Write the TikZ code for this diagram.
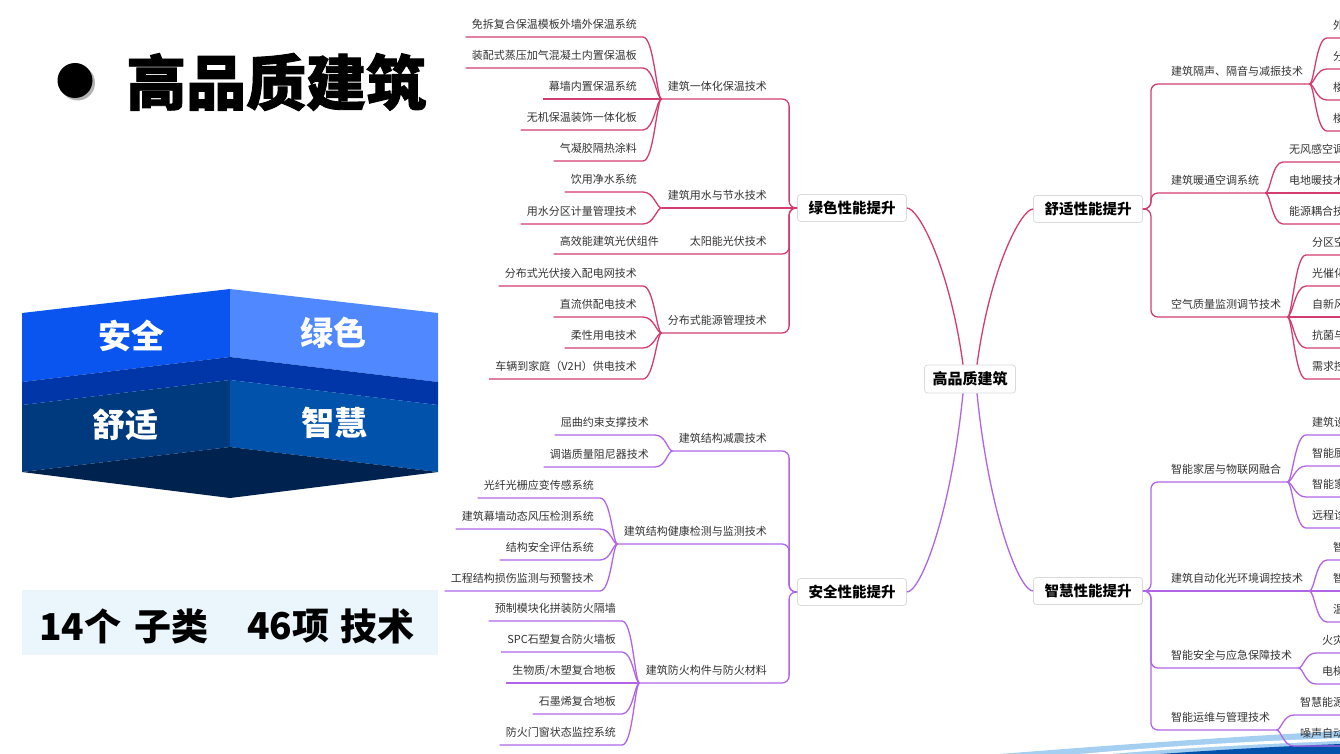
\documentclass[tikz,border=0pt]{standalone}
\usepackage{fontspec}
\setmainfont{Noto Sans CJK SC}
\newfontfamily\heavyfont{Noto Sans CJK SC}[FakeBold=1.5]
\usetikzlibrary{positioning,calc}
\definecolor{pinkbr}{HTML}{D23C6E}
\definecolor{purpbr}{HTML}{B064E6}
\definecolor{boxgray}{HTML}{DADADA}
\definecolor{txtgray}{HTML}{333333}
\definecolor{blkblue}{HTML}{0A55F0}
\definecolor{blklight}{HTML}{5089FF}
\definecolor{blkband}{HTML}{0036A8}
\definecolor{blknavy}{HTML}{003A7E}
\definecolor{blkmid}{HTML}{0052AA}
\definecolor{blkdeep}{HTML}{00224F}
\definecolor{statbg}{HTML}{EBF6FC}
\definecolor{waveblue}{HTML}{5AA8E6}

\begin{document}
\begin{tikzpicture}[x=1pt,y=-1pt,
  rootbox/.style={draw=boxgray,fill=white,rounded corners=3pt,line width=0.8pt,font=\fontsize{15}{17}\selectfont\bfseries,inner xsep=8pt,minimum height=28pt},
  topic/.style={rootbox,font=\fontsize{14.5}{17}\selectfont\bfseries,inner xsep=11pt,minimum height=27pt},
  subtxt/.style={font=\fontsize{11}{13}\selectfont,text=txtgray,inner xsep=6pt,inner ysep=5.5pt,text height=8.5pt,text depth=2.5pt},
  pinkln/.style={draw=pinkbr,line width=1.3pt},
  purpln/.style={draw=purpbr,line width=1.3pt},
  brl/.style={to path={.. controls +(-5,0) and +(11,0) .. (\tikztotarget)}},
  brr/.style={to path={.. controls +(5,0) and +(-11,0) .. (\tikztotarget)}},
  blocktxt/.style={text=white,font=\fontsize{33}{36}\selectfont\bfseries},
  stattxt/.style={anchor=west,inner sep=0pt,font=\fontsize{37}{40}\selectfont\bfseries}
]
\useasboundingbox (0,0) rectangle (1340,754);
\clip (0,0) rectangle (1340,754);

% title
\fill[black!30] (77.5,83) circle (17.5);
\node[circle,fill=black,minimum size=35pt,inner sep=0pt] (bullet) at (75,80.5) {};
\node[anchor=west,inner sep=0pt,font=\heavyfont\fontsize{60}{64}\selectfont\bfseries] (title) at (126,82) {高品质建筑};

% stacked block
\fill[blkblue] (22,313) -- (230,289) -- (230,357) -- (22,382) -- cycle;
\fill[blklight] (230,289) -- (438,313) -- (438,382) -- (230,357) -- cycle;
\fill[blkband] (22,382) -- (230,357) -- (438,382) -- (438,405) -- (230,380) -- (22,405) -- cycle;
\fill[blknavy] (22,405) -- (230,380) -- (230,447) -- (22,472) -- cycle;
\fill[blkmid] (230,380) -- (438,405) -- (438,472) -- (230,447) -- cycle;
\fill[blkdeep] (22,472) -- (230,447) -- (438,472) -- (230,498) -- cycle;
\node[blocktxt] (anquan) at (131,336) {安全};
\node[blocktxt] (lvse) at (333,333) {绿色};
\node[blocktxt] (shushi) at (125,425) {舒适};
\node[blocktxt] (zhihui) at (334,423) {智慧};

% counts
\fill[statbg] (22,590) rectangle (438,655);
\node[stattxt] (cnt14) at (39,626) {14个};
\node[stattxt] (zilei) at (134,626) {子类};
\node[stattxt] (cnt46) at (247,626) {46项};
\node[stattxt] (jishu) at (340,626) {技术};

% bottom corner band
\fill[waveblue!55] (1000,754) .. controls (1150,742) and (1250,736) .. (1340,731) -- (1340,754) -- cycle;
\fill[white] (1080,754) .. controls (1180,745) and (1260,741) .. (1340,738) -- (1340,741) .. controls (1260,744) and (1180,748) .. (1110,754) -- cycle;
\fill[blkmid] (1160,754) .. controls (1230,749) and (1290,746) .. (1340,744) -- (1340,754) -- cycle;

% mind map centre and topics
\node[rootbox] (core) at (970,379) {高品质建筑};
\node[topic] (green) at (852,208) {绿色性能提升};
\node[topic] (comf) at (1088,209) {舒适性能提升};
\node[topic] (safe) at (852,592) {安全性能提升};
\node[topic] (smart) at (1088,591) {智慧性能提升};

\draw[pinkln] ([xshift=-7pt]core.north) .. controls +(-13,-96) and +(12,0) .. (green.east);
\draw[pinkln] ([xshift=7pt]core.north) .. controls +(13,-96) and +(-12,0) .. (comf.west);
\draw[purpln] ([xshift=-7pt]core.south) .. controls +(-12,120) and +(14,0) .. (safe.east);
\draw[purpln] ([xshift=7pt]core.south) .. controls +(12,120) and +(-14,0) .. (smart.west);

% green branch
\node[subtxt,anchor=south east] (g1) at (773,99) {建筑一体化保温技术};
\node[subtxt,anchor=south east] (g2) at (773,208) {建筑用水与节水技术};
\node[subtxt,anchor=south east] (g3) at (773,254) {太阳能光伏技术};
\node[subtxt,anchor=south east] (g4) at (773,333) {分布式能源管理技术};
\node[subtxt,anchor=south east] (g11) at (643,37) {免拆复合保温模板外墙外保温系统};
\node[subtxt,anchor=south east] (g12) at (643,68) {装配式蒸压加气混凝土内置保温板};
\node[subtxt,anchor=south east] (g13) at (643,99) {幕墙内置保温系统};
\node[subtxt,anchor=south east] (g14) at (643,130) {无机保温装饰一体化板};
\node[subtxt,anchor=south east] (g15) at (643,161) {气凝胶隔热涂料};
\node[subtxt,anchor=south east] (g21) at (643,192) {饮用净水系统};
\node[subtxt,anchor=south east] (g22) at (643,224) {用水分区计量管理技术};
\node[subtxt,anchor=south east] (g31) at (665,254) {高效能建筑光伏组件};
\node[subtxt,anchor=south east] (g41) at (643,286) {分布式光伏接入配电网技术};
\node[subtxt,anchor=south east] (g42) at (643,317) {直流供配电技术};
\node[subtxt,anchor=south east] (g43) at (643,348) {柔性用电技术};
\node[subtxt,anchor=south east] (g44) at (643,379) {车辆到家庭（V2H）供电技术};

\draw[pinkln,rounded corners=7pt] (green.west) -- ++(-8,0) |- (g1.south east) -- (g1.south west);
\draw[pinkln] (green.west) -- (g2.south west);
\draw[pinkln,rounded corners=7pt] (green.west) -- ++(-8,0) |- (g3.south east) -- (g31.south west);
\draw[pinkln,rounded corners=7pt] (green.west) -- ++(-8,0) |- (g4.south east) -- (g4.south west);
\draw[pinkln] (g1.south west) to[brl] (g11.south east) -- (g11.south west);
\draw[pinkln] (g1.south west) to[brl] (g12.south east) -- (g12.south west);
\draw[pinkln] (g1.south west) to[brl] (g13.south east) -- (g13.south west);
\draw[pinkln] (g1.south west) to[brl] (g14.south east) -- (g14.south west);
\draw[pinkln] (g1.south west) to[brl] (g15.south east) -- (g15.south west);
\draw[pinkln] (g2.south west) to[brl] (g21.south east) -- (g21.south west);
\draw[pinkln] (g2.south west) to[brl] (g22.south east) -- (g22.south west);
\draw[pinkln] (g4.south west) to[brl] (g41.south east) -- (g41.south west);
\draw[pinkln] (g4.south west) to[brl] (g42.south east) -- (g42.south west);
\draw[pinkln] (g4.south west) to[brl] (g43.south east) -- (g43.south west);
\draw[pinkln] (g4.south west) to[brl] (g44.south east) -- (g44.south west);

% safety branch
\node[subtxt,anchor=south east] (a1) at (773,451) {建筑结构减震技术};
\node[subtxt,anchor=south east] (a2) at (773,544) {建筑结构健康检测与监测技术};
\node[subtxt,anchor=south east] (a3) at (773,683) {建筑防火构件与防火材料};
\node[subtxt,anchor=south east] (a11) at (655,435) {屈曲约束支撑技术};
\node[subtxt,anchor=south east] (a12) at (655,467) {调谐质量阻尼器技术};
\node[subtxt,anchor=south east] (a21) at (600,498) {光纤光栅应变传感系统};
\node[subtxt,anchor=south east] (a22) at (600,529) {建筑幕墙动态风压检测系统};
\node[subtxt,anchor=south east] (a23) at (600,560) {结构安全评估系统};
\node[subtxt,anchor=south east] (a24) at (600,591) {工程结构损伤监测与预警技术};
\node[subtxt,anchor=south east] (a31) at (622,621) {预制模块化拼装防火隔墙};
\node[subtxt,anchor=south east] (a32) at (622,652) {SPC石塑复合防火墙板};
\node[subtxt,anchor=south east] (a33) at (622,683) {生物质/木塑复合地板};
\node[subtxt,anchor=south east] (a34) at (622,714) {石墨烯复合地板};
\node[subtxt,anchor=south east] (a35) at (622,745) {防火门窗状态监控系统};

\draw[purpln,rounded corners=7pt] (safe.west) -- ++(-8,0) |- (a1.south east) -- (a1.south west);
\draw[purpln,rounded corners=7pt] (safe.west) -- ++(-8,0) |- (a2.south east) -- (a2.south west);
\draw[purpln,rounded corners=7pt] (safe.west) -- ++(-8,0) |- (a3.south east) -- (a3.south west);
\draw[purpln] (a1.south west) to[brl] (a11.south east) -- (a11.south west);
\draw[purpln] (a1.south west) to[brl] (a12.south east) -- (a12.south west);
\draw[purpln] (a2.south west) to[brl] (a21.south east) -- (a21.south west);
\draw[purpln] (a2.south west) to[brl] (a22.south east) -- (a22.south west);
\draw[purpln] (a2.south west) to[brl] (a23.south east) -- (a23.south west);
\draw[purpln] (a2.south west) to[brl] (a24.south east) -- (a24.south west);
\draw[purpln] (a3.south west) to[brl] (a31.south east) -- (a31.south west);
\draw[purpln] (a3.south west) to[brl] (a32.south east) -- (a32.south west);
\draw[purpln] (a3.south west) to[brl] (a33.south east) -- (a33.south west);
\draw[purpln] (a3.south west) to[brl] (a34.south east) -- (a34.south west);
\draw[purpln] (a3.south west) to[brl] (a35.south east) -- (a35.south west);

% comfort branch
\node[subtxt,anchor=south west] (c1) at (1165,84) {建筑隔声、隔音与减振技术};
\node[subtxt,anchor=south west] (c2) at (1165,193) {建筑暖通空调系统};
\node[subtxt,anchor=south west] (c3) at (1165,317) {空气质量监测调节技术};
\node[subtxt,anchor=south west] (c11) at (1327,38) {外};
\node[subtxt,anchor=south west] (c12) at (1327,69) {分};
\node[subtxt,anchor=south west] (c13) at (1327,100) {楼};
\node[subtxt,anchor=south west] (c14) at (1327,131) {楼};
\node[subtxt,anchor=south west] (c21) at (1283,162) {无风感空调};
\node[subtxt,anchor=south west] (c22) at (1283,193) {电地暖技术};
\node[subtxt,anchor=south west] (c23) at (1283,224) {能源耦合技};
\node[subtxt,anchor=south west] (c31) at (1306,255) {分区空};
\node[subtxt,anchor=south west] (c32) at (1306,286) {光催化};
\node[subtxt,anchor=south west] (c33) at (1306,317) {自新风};
\node[subtxt,anchor=south west] (c34) at (1306,348) {抗菌与};
\node[subtxt,anchor=south west] (c35) at (1306,379) {需求控};

\draw[pinkln,rounded corners=7pt] (comf.east) -- ++(8,0) |- (c1.south west) -- (c1.south east);
\draw[pinkln,rounded corners=7pt] (comf.east) -- ++(8,0) |- (c2.south west) -- (c2.south east);
\draw[pinkln,rounded corners=7pt] (comf.east) -- ++(8,0) |- (c3.south west) -- (c3.south east);
\draw[pinkln] (c1.south east) to[brr] (c11.south west) -- (c11.south east);
\draw[pinkln] (c1.south east) to[brr] (c12.south west) -- (c12.south east);
\draw[pinkln] (c1.south east) to[brr] (c13.south west) -- (c13.south east);
\draw[pinkln] (c1.south east) to[brr] (c14.south west) -- (c14.south east);
\draw[pinkln] (c2.south east) to[brr] (c21.south west) -- (c21.south east);
\draw[pinkln] (c2.south east) to[brr] (c22.south west) -- (c22.south east);
\draw[pinkln] (c2.south east) to[brr] (c23.south west) -- (c23.south east);
\draw[pinkln] (c3.south east) to[brr] (c31.south west) -- (c31.south east);
\draw[pinkln] (c3.south east) to[brr] (c32.south west) -- (c32.south east);
\draw[pinkln] (c3.south east) to[brr] (c33.south west) -- (c33.south east);
\draw[pinkln] (c3.south east) to[brr] (c34.south west) -- (c34.south east);
\draw[pinkln] (c3.south east) to[brr] (c35.south west) -- (c35.south east);

% smart branch
\node[subtxt,anchor=south west] (w1) at (1165,482) {智能家居与物联网融合};
\node[subtxt,anchor=south west] (w2) at (1165,591) {建筑自动化光环境调控技术};
\node[subtxt,anchor=south west] (w3) at (1165,668) {智能安全与应急保障技术};
\node[subtxt,anchor=south west] (w4) at (1165,730) {智能运维与管理技术};
\node[subtxt,anchor=south west] (w11) at (1306,435) {建筑设};
\node[subtxt,anchor=south west] (w12) at (1306,466) {智能厨};
\node[subtxt,anchor=south west] (w13) at (1306,497) {智能家};
\node[subtxt,anchor=south west] (w14) at (1306,528) {远程诊};
\node[subtxt,anchor=south west] (w21) at (1327,560) {智};
\node[subtxt,anchor=south west] (w22) at (1327,591) {智};
\node[subtxt,anchor=south west] (w23) at (1327,622) {温};
\node[subtxt,anchor=south west] (w31) at (1316,653) {火灾};
\node[subtxt,anchor=south west] (w32) at (1316,684) {电梯};
\node[subtxt,anchor=south west] (w41) at (1294,715) {智慧能源};
\node[subtxt,anchor=south west] (w42) at (1294,746) {噪声自动};

\draw[purpln,rounded corners=7pt] (smart.east) -- ++(8,0) |- (w1.south west) -- (w1.south east);
\draw[purpln] (smart.east) -- (w2.south east);
\draw[purpln,rounded corners=7pt] (smart.east) -- ++(8,0) |- (w3.south west) -- (w3.south east);
\draw[purpln,rounded corners=7pt] (smart.east) -- ++(8,0) |- (w4.south west) -- (w4.south east);
\draw[purpln] (w1.south east) to[brr] (w11.south west) -- (w11.south east);
\draw[purpln] (w1.south east) to[brr] (w12.south west) -- (w12.south east);
\draw[purpln] (w1.south east) to[brr] (w13.south west) -- (w13.south east);
\draw[purpln] (w1.south east) to[brr] (w14.south west) -- (w14.south east);
\draw[purpln] (w2.south east) to[brr] (w21.south west) -- (w21.south east);
\draw[purpln] (w2.south east) to[brr] (w22.south west) -- (w22.south east);
\draw[purpln] (w2.south east) to[brr] (w23.south west) -- (w23.south east);
\draw[purpln] (w3.south east) to[brr] (w31.south west) -- (w31.south east);
\draw[purpln] (w3.south east) to[brr] (w32.south west) -- (w32.south east);
\draw[purpln] (w4.south east) to[brr] (w41.south west) -- (w41.south east);
\draw[purpln] (w4.south east) to[brr] (w42.south west) -- (w42.south east);
\end{tikzpicture}
\end{document}
